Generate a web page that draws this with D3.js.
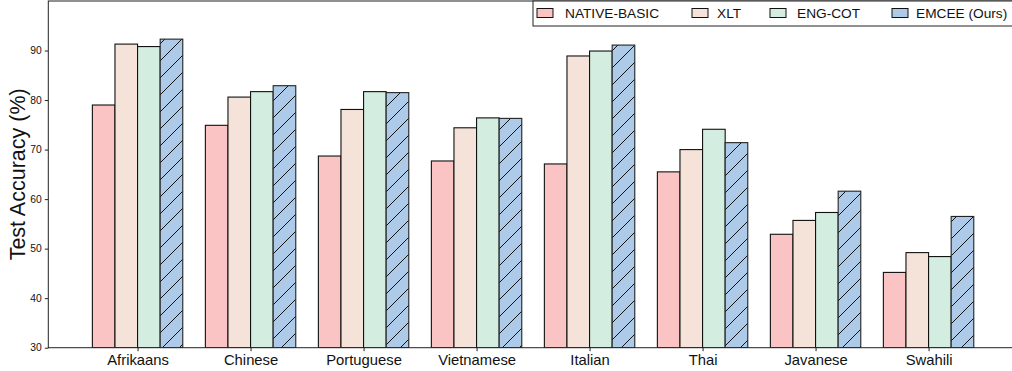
<!DOCTYPE html>
<html>
<head>
<meta charset="utf-8">
<script src="https://cdn.jsdelivr.net/npm/d3@7"></script>
<style>
  html, body { margin: 0; padding: 0; background: #fff; }
  svg { display: block; font-family: "Liberation Sans", Arial, sans-serif; }
</style>
</head>
<body>
<svg id="chart" width="1012" height="371"></svg>
<script>
// Test accuracy per language for each prompting method
const languages = ["Afrikaans", "Chinese", "Portuguese", "Vietnamese", "Italian", "Thai", "Javanese", "Swahili"];
const methods = ["NATIVE-BASIC", "XLT", "ENG-COT", "EMCEE (Ours)"];
const nativeBasic = [79.0, 74.9, 68.7, 67.7, 67.1, 65.5, 52.9, 45.2];
const xlt         = [91.3, 80.6, 78.1, 74.4, 88.9, 70.0, 55.7, 49.2];
const engCot      = [90.8, 81.7, 81.7, 76.4, 89.9, 74.1, 57.3, 48.4];
const emcee       = [92.3, 82.9, 81.5, 76.3, 91.1, 71.4, 61.6, 56.5];
const yTicks = [30, 40, 50, 60, 70, 80, 90];
const colors = ["#fbc4c4", "#f5e3d9", "#d3ede0", "#aecae9"];

const series = [nativeBasic, xlt, engCot, emcee];

const svg = d3.select("#chart");
const W = 1012, H = 371;
const plotLeft = 48.3, plotTop = 1, plotBottom = 347.7;
const step = 113;

// x in units of category index, y in accuracy percent
const x = d3.scaleLinear().domain([-0.79, 7.79]).range([plotLeft, plotLeft + 8.58 * step]);
const y = d3.scaleLinear().domain([30, 100]).range([plotBottom, plotTop]);
const barW = 0.2;

// diagonal hatch used for the EMCEE bars
const defs = svg.append("defs");
const s = 17;
const pat = defs.append("pattern")
  .attr("id", "hatch")
  .attr("patternUnits", "userSpaceOnUse")
  .attr("width", s).attr("height", s);
pat.append("rect").attr("width", s).attr("height", s).attr("fill", colors[3]);
pat.append("path")
  .attr("d", `M0,${s} L${s},0 M-2,2 L2,-2 M${s - 2},${s + 2} L${s + 2},${s - 2}`)
  .attr("stroke", "#111").attr("stroke-width", 1);

defs.append("clipPath").attr("id", "plotclip")
  .append("rect").attr("x", plotLeft).attr("y", plotTop).attr("width", W - plotLeft).attr("height", plotBottom - plotTop);

// bars
const g = svg.append("g").attr("clip-path", "url(#plotclip)");
series.forEach((vals, j) => {
  g.selectAll(null)
    .data(vals)
    .enter().append("rect")
    .attr("x", (d, i) => x(i + (j - 1.5) * barW - barW / 2))
    .attr("y", d => y(d))
    .attr("width", x(barW) - x(0))
    .attr("height", d => y(30) - y(d))
    .attr("fill", j === 3 ? "url(#hatch)" : colors[j])
    .attr("stroke", j === 3 ? "#222" : "#111")
    .attr("stroke-width", 1.1);
});

// y axis
const yAxis = d3.axisLeft(y).tickValues(yTicks).tickSize(3.5).tickPadding(3).tickFormat(d3.format("d"));
const gy = svg.append("g").attr("transform", `translate(${plotLeft},0)`).call(yAxis);
gy.select(".domain").remove();
gy.selectAll("text").attr("font-size", 10.3).attr("fill", "#111").attr("font-family", "Liberation Sans, Arial, sans-serif");
gy.selectAll("line").attr("stroke", "#222");

// x axis
const xAxis = d3.axisBottom(x).tickValues(d3.range(languages.length)).tickSize(3.5).tickPadding(3)
  .tickFormat(i => languages[i]);
const gx = svg.append("g").attr("transform", `translate(0,${plotBottom})`).call(xAxis);
gx.select(".domain").remove();
gx.selectAll("text").attr("font-size", 14.8).attr("fill", "#111").attr("font-family", "Liberation Sans, Arial, sans-serif");
gx.selectAll("line").attr("stroke", "#222");

// frame
svg.append("rect")
  .attr("x", plotLeft).attr("y", plotTop)
  .attr("width", x(7.79) - plotLeft).attr("height", plotBottom - plotTop)
  .attr("fill", "none").attr("stroke", "#222").attr("stroke-width", 1);

// y label
svg.append("text")
  .attr("transform", `translate(24.5,${(plotTop + plotBottom) / 2}) rotate(-90)`)
  .attr("text-anchor", "middle")
  .attr("font-size", 21.5)
  .attr("fill", "#111")
  .text("Test Accuracy (%)");

// legend
const lg = svg.append("g");
lg.append("rect")
  .attr("x", 533).attr("y", 1).attr("width", 500).attr("height", 25)
  .attr("fill", "#fff").attr("stroke", "#222").attr("stroke-width", 1);
const legendX = [537, 692, 770, 892];
const legendTextX = [565, 717, 797, 916];
methods.forEach((m, j) => {
  lg.append("rect")
    .attr("x", legendX[j]).attr("y", 8.5).attr("width", 16).attr("height", 9)
    .attr("fill", colors[j]).attr("stroke", "#111").attr("stroke-width", 1);
  lg.append("text")
    .attr("x", legendTextX[j]).attr("y", 18)
    .attr("font-size", 13.7).attr("fill", "#111")
    .text(m);
});
</script>
</body>
</html>
